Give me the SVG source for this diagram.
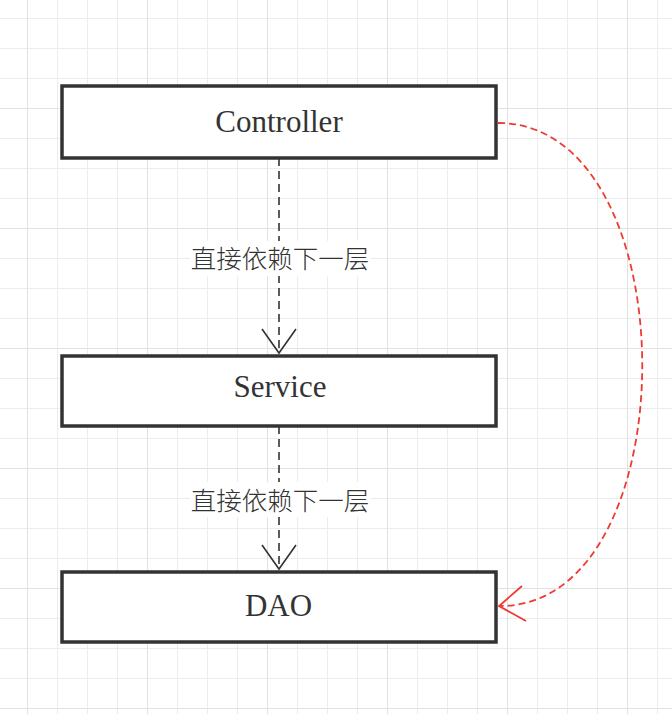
<svg xmlns="http://www.w3.org/2000/svg" width="672" height="714" viewBox="0 0 672 714">
<defs>
<pattern id="minor" patternUnits="userSpaceOnUse" x="27" y="18" width="30" height="30">
<path d="M0 0V30M0 0H30" fill="none" stroke="#ececec" stroke-width="2"/>
</pattern>
<pattern id="major" patternUnits="userSpaceOnUse" x="27" y="108" width="120" height="120">
<path d="M0 0V120M0 0H120" fill="none" stroke="#e2e2e2" stroke-width="2"/>
</pattern>
</defs>
<style>
.box{fill:#fff;stroke:#333;stroke-width:3.5}
.t{font-family:"Liberation Serif","Times New Roman",serif;font-size:31px;fill:#333;text-anchor:middle}
.lbl{font-family:"Noto Sans CJK SC","Noto Sans",sans-serif;font-size:25.5px;font-weight:300;fill:#333;text-anchor:middle}
.dash{fill:none;stroke:#333;stroke-width:1.6;stroke-dasharray:8 5}
.head{fill:none;stroke:#333;stroke-width:1.6}
.red{fill:none;stroke:#ee3a30;stroke-width:1.8;stroke-dasharray:7 4}
.redhead{fill:none;stroke:#ee3a30;stroke-width:1.8}
</style>
<rect width="672" height="714" fill="#fff"/>
<rect width="672" height="714" fill="url(#minor)"/>
<rect width="672" height="714" fill="url(#major)"/>
<g id="connectors">
<path class="dash" d="M279 158V353"/>
<path class="head" d="M262 329L279 353L296 329"/>
<path class="dash" d="M279 426V568"/>
<path class="head" d="M262 545L279 569L296 545"/>
<path class="red" d="M498 123C690 123 690 606 500 606"/>
<path class="redhead" d="M522 586L499 606L526 621"/>
<g id="label1">
<rect x="190" y="241" width="181" height="35" fill="#fff"/>
<text class="lbl" x="280" y="268">直接依赖下一层</text>
</g>
<g id="label2">
<rect x="190" y="482" width="181" height="35" fill="#fff"/>
<text class="lbl" x="280" y="510">直接依赖下一层</text>
</g>
</g>
<g id="controller">
<rect class="box" x="62" y="86" width="434" height="72"/>
<text class="t" x="279" y="132">Controller</text>
</g>
<g id="service">
<rect class="box" x="62" y="356" width="434" height="70"/>
<text class="t" x="280" y="397">Service</text>
</g>
<g id="dao">
<rect class="box" x="62" y="572" width="434" height="70"/>
<text class="t" x="278.5" y="615.5">DAO</text>
</g>
</svg>
